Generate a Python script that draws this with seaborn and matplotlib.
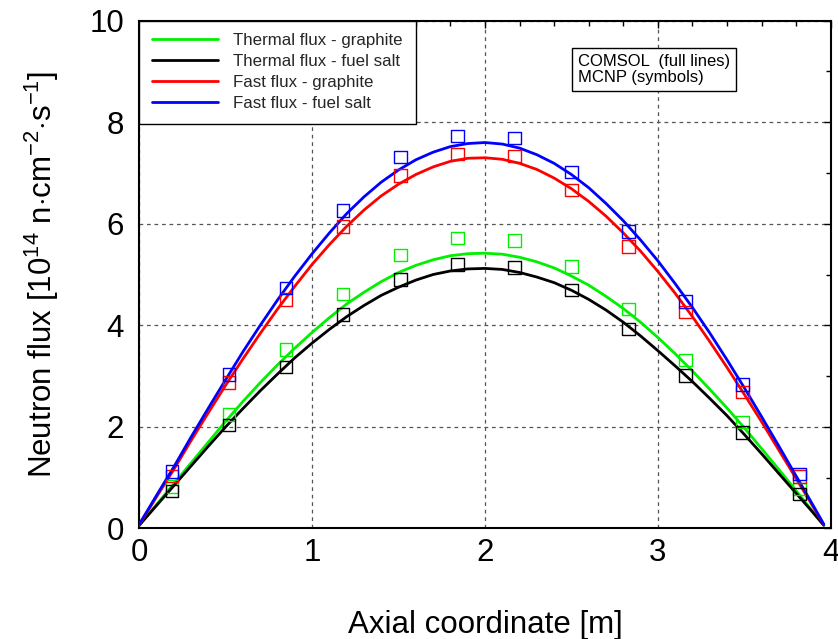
import numpy as np
import pandas as pd
import matplotlib
matplotlib.use("Agg")
import matplotlib.pyplot as plt
from matplotlib.lines import Line2D
from matplotlib.ticker import MultipleLocator
import seaborn as sns

# COMSOL curves (full lines)
curve_x = [0.0, 0.1, 0.2, 0.3, 0.4, 0.5, 0.6, 0.7, 0.8, 0.9, 1.0,
           1.1, 1.2, 1.3, 1.4, 1.5, 1.6, 1.7, 1.8, 1.9, 2.0,
           2.1, 2.2, 2.3, 2.4, 2.5, 2.6, 2.7, 2.8, 2.9, 3.0,
           3.1, 3.2, 3.3, 3.4, 3.5, 3.6, 3.7, 3.8, 3.88, 3.96]
thermal_graphite = [0.06, 0.47, 0.88, 1.29, 1.70, 2.11, 2.50, 2.87, 3.22, 3.55, 3.86,
                    4.15, 4.42, 4.65, 4.86, 5.04, 5.18, 5.29, 5.37, 5.41, 5.42,
                    5.40, 5.34, 5.25, 5.13, 4.97, 4.79, 4.57, 4.33, 4.06, 3.76,
                    3.44, 3.10, 2.74, 2.37, 1.98, 1.57, 1.16, 0.74, 0.40, 0.06]
thermal_salt = [0.06, 0.45, 0.84, 1.23, 1.62, 2.00, 2.36, 2.71, 3.04, 3.36, 3.65,
                3.92, 4.17, 4.39, 4.59, 4.75, 4.89, 5.00, 5.07, 5.11, 5.12,
                5.10, 5.04, 4.95, 4.84, 4.69, 4.51, 4.30, 4.06, 3.79, 3.50,
                3.20, 2.89, 2.56, 2.22, 1.85, 1.47, 1.08, 0.69, 0.38, 0.06]
fast_graphite = [0.07, 0.62, 1.16, 1.73, 2.28, 2.82, 3.34, 3.84, 4.32, 4.77, 5.20,
                 5.59, 5.95, 6.27, 6.55, 6.78, 6.97, 7.12, 7.23, 7.29, 7.30,
                 7.27, 7.19, 7.07, 6.90, 6.69, 6.44, 6.15, 5.82, 5.46, 5.06,
                 4.63, 4.17, 3.68, 3.17, 2.64, 2.10, 1.54, 0.98, 0.53, 0.07]
fast_salt = [0.08, 0.65, 1.21, 1.80, 2.37, 2.93, 3.48, 4.00, 4.50, 4.97, 5.41,
             5.82, 6.20, 6.53, 6.82, 7.06, 7.26, 7.41, 7.52, 7.58, 7.60,
             7.57, 7.49, 7.36, 7.19, 6.97, 6.71, 6.40, 6.06, 5.68, 5.27,
             4.82, 4.35, 3.85, 3.32, 2.77, 2.20, 1.62, 1.03, 0.56, 0.08]

# MCNP results (symbols)
mcnp_x = [0.19, 0.52, 0.85, 1.18, 1.51, 1.84, 2.17, 2.50, 2.83, 3.16, 3.49, 3.82]
mcnp_thermal_graphite = [0.82, 2.24, 3.52, 4.62, 5.39, 5.72, 5.67, 5.16, 4.32, 3.32, 2.10, 0.77]
mcnp_thermal_salt = [0.74, 2.03, 3.18, 4.21, 4.90, 5.20, 5.14, 4.70, 3.93, 3.01, 1.89, 0.68]
mcnp_fast_graphite = [1.03, 2.87, 4.51, 5.95, 6.95, 7.37, 7.33, 6.67, 5.55, 4.26, 2.69, 1.02]
mcnp_fast_salt = [1.12, 3.03, 4.73, 6.26, 7.31, 7.73, 7.69, 7.02, 5.85, 4.47, 2.83, 1.07]

labels = ["Thermal flux - graphite", "Thermal flux - fuel salt",
          "Fast flux - graphite", "Fast flux - fuel salt"]
colors = ["#00f000", "#000000", "#ff0000", "#0000ff"]

sns.set_theme(style="white")
plt.rcParams["font.family"] = ["Liberation Sans", "DejaVu Sans"]
plt.rcParams["mathtext.fontset"] = "custom"
plt.rcParams["mathtext.rm"] = "Liberation Sans"
plt.rcParams["mathtext.it"] = "Liberation Sans"
plt.rcParams["axes.unicode_minus"] = False

curves = pd.DataFrame({
    "x": curve_x * 4,
    "flux": thermal_graphite + thermal_salt + fast_graphite + fast_salt,
    "series": sum([[lab] * len(curve_x) for lab in labels], []),
})
points = pd.DataFrame({
    "x": mcnp_x * 4,
    "flux": mcnp_thermal_graphite + mcnp_thermal_salt + mcnp_fast_graphite + mcnp_fast_salt,
    "series": sum([[lab] * len(mcnp_x) for lab in labels], []),
})
palette = dict(zip(labels, colors))

fig = plt.figure(figsize=(8.38, 6.39), dpi=100)
ax = fig.add_axes([0.1662, 0.1732, 0.8251, 0.7944])

ax.grid(True, which="major", linestyle=(0, (3, 3)), color="#555555", linewidth=0.9)
ax.set_axisbelow(True)

sns.lineplot(data=curves, x="x", y="flux", hue="series", palette=palette,
             linewidth=2.0, sort=False, legend=False, ax=ax, zorder=3)
for lab in labels:
    sub = points[points["series"] == lab]
    sns.scatterplot(data=sub, x="x", y="flux", marker="s", s=80,
                    color=palette[lab], facecolor="none", edgecolor=palette[lab],
                    linewidth=1.0, legend=False, ax=ax, zorder=4)

ax.set_xlim(0, 4)
ax.set_ylim(0, 10)
ax.xaxis.set_major_locator(MultipleLocator(1))
ax.xaxis.set_minor_locator(MultipleLocator(0.2))
ax.yaxis.set_major_locator(MultipleLocator(2))
ax.yaxis.set_minor_locator(MultipleLocator(1))
ax.tick_params(which="both", direction="in", top=True, right=True, colors="black")
ax.tick_params(which="major", length=5, width=1.0, labelsize=22.5)
ax.tick_params(which="minor", length=3.5, width=1.0)
ax.tick_params(axis="x", which="major", pad=7)
ax.tick_params(axis="y", which="major", pad=11)
for sp in ax.spines.values():
    sp.set_color("black")
    sp.set_linewidth(1.5)

ax.set_xlabel("Axial coordinate [m]", fontsize=22.5, labelpad=30, color="black")
ax.set_ylabel(r"Neutron flux [10$^{14}$ n$\cdot$cm$^{-2}$$\cdot$s$^{-1}$]",
              fontsize=22.5, labelpad=20, color="black")

handles = [Line2D([], [], color=c, linewidth=2.0) for c in colors]
leg = ax.legend(handles, labels, loc="upper left", bbox_to_anchor=(0, 1),
                frameon=True, fancybox=False, edgecolor="black", fontsize=12.2,
                borderaxespad=0, borderpad=0.75, handlelength=3.9,
                handletextpad=0.9, labelspacing=0.35, framealpha=1)
leg.get_frame().set_linewidth(1.0)

ax.text(0.6345, 0.904, "COMSOL  (full lines)\nMCNP (symbols)", transform=ax.transAxes,
        ha="left", va="center", fontsize=12, linespacing=1.15, color="black",
        bbox=dict(boxstyle="square,pad=0.35", facecolor="white", edgecolor="black",
                  linewidth=1.0), zorder=5)

fig.savefig("out.png", dpi=100)
